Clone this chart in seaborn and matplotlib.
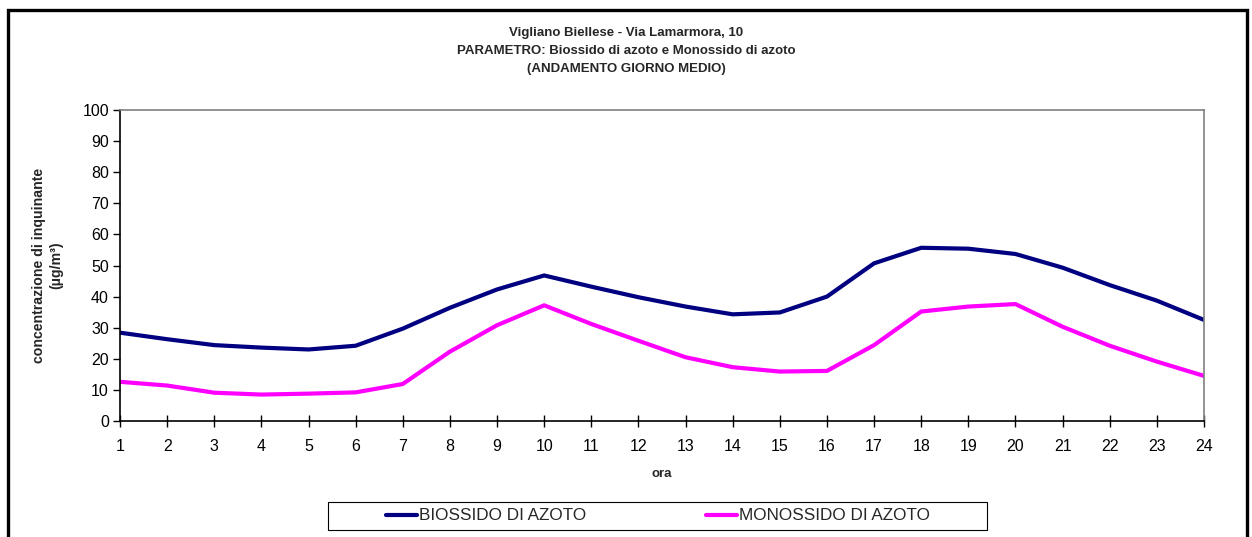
import matplotlib
matplotlib.use('Agg')

import matplotlib.pyplot as plt
import matplotlib.patches as patches
import seaborn as sns
import pandas as pd

ore = list(range(1, 25))
biossido = [28.4, 26.3, 24.4, 23.6, 23.0, 24.2, 29.7, 36.4, 42.3, 46.8, 43.2, 39.8,
            36.8, 34.3, 34.9, 40.0, 50.7, 55.7, 55.4, 53.7, 49.3, 43.7, 38.7, 32.5]
monossido = [12.6, 11.4, 9.1, 8.5, 8.8, 9.2, 11.9, 22.3, 30.8, 37.2, 31.2, 25.8,
             20.5, 17.3, 15.9, 16.1, 24.4, 35.2, 36.8, 37.6, 30.3, 24.2, 19.1, 14.5]
serie = ['BIOSSIDO DI AZOTO', 'MONOSSIDO DI AZOTO']
colori = ['#000080', '#FF00FF']

df = pd.DataFrame({
    'ora': ore * 2,
    'valore': biossido + monossido,
    'serie': [serie[0]] * 24 + [serie[1]] * 24,
})

sns.set_style("white")
plt.rcParams['font.family'] = ['Liberation Sans', 'DejaVu Sans']

W, H = 1252, 537
fig = plt.figure(figsize=(W / 100, H / 100), dpi=100)
ax = fig.add_axes([120 / W, 116 / H, (1204 - 120) / W, (421 - 110) / H])

sns.lineplot(data=df, x='ora', y='valore', hue='serie', palette=colori,
             linewidth=3, ax=ax, legend=True)

ax.set_xlim(1, 24)
ax.set_ylim(0, 100)
ax.set_xticks(ore)
ax.set_yticks(range(0, 101, 10))
ax.tick_params(axis='both', labelsize=11.5, colors='black', width=1)
ax.tick_params(axis='x', direction='inout', length=9, pad=8.5)
ax.tick_params(axis='y', direction='out', length=5, pad=3)
ax.xaxis.set_ticks_position('bottom')
ax.yaxis.set_ticks_position('left')

for s in ['left', 'bottom']:
    ax.spines[s].set_color('black')
    ax.spines[s].set_linewidth(1.2)
for s in ['top', 'right']:
    ax.spines[s].set_color('#808080')
    ax.spines[s].set_linewidth(1.2)

ax.set_xlabel('ora', fontsize=9.5, fontweight='bold', labelpad=10)
ax.set_ylabel('concentrazione di inquinante\n(µg/m³)', fontsize=10.2, fontweight='bold',
              labelpad=14, linespacing=1.3)

titoli = ['Vigliano Biellese - Via Lamarmora, 10',
          'PARAMETRO: Biossido di azoto e Monossido di azoto',
          '(ANDAMENTO GIORNO MEDIO)']
for i, t in enumerate(titoli):
    fig.text(0.5, 1 - (33 + 18 * i) / H, t, ha='center', va='center',
             fontsize=9.5, fontweight='bold')

handles, labels = ax.get_legend_handles_labels()
ax.legend_.remove()
fig.legend(handles, labels, loc='center', bbox_to_anchor=(658 / W, 1 - 516 / H),
           ncol=2, fontsize=12.3, frameon=False, handlelength=1.8,
           handletextpad=0.15, columnspacing=7.0, borderpad=0, borderaxespad=0)
fig.patches.append(patches.Rectangle((328 / W, 1 - 530 / H), (987 - 328) / W, 28 / H,
                                     transform=fig.transFigure, fill=False,
                                     edgecolor='black', linewidth=0.8))

fig.patches.append(patches.Rectangle((8 / W, -0.1), (1247 - 8) / W, 1.1 - 10 / H,
                                     transform=fig.transFigure, fill=False,
                                     edgecolor='black', linewidth=2.4))

fig.savefig('out.png', dpi=100)
